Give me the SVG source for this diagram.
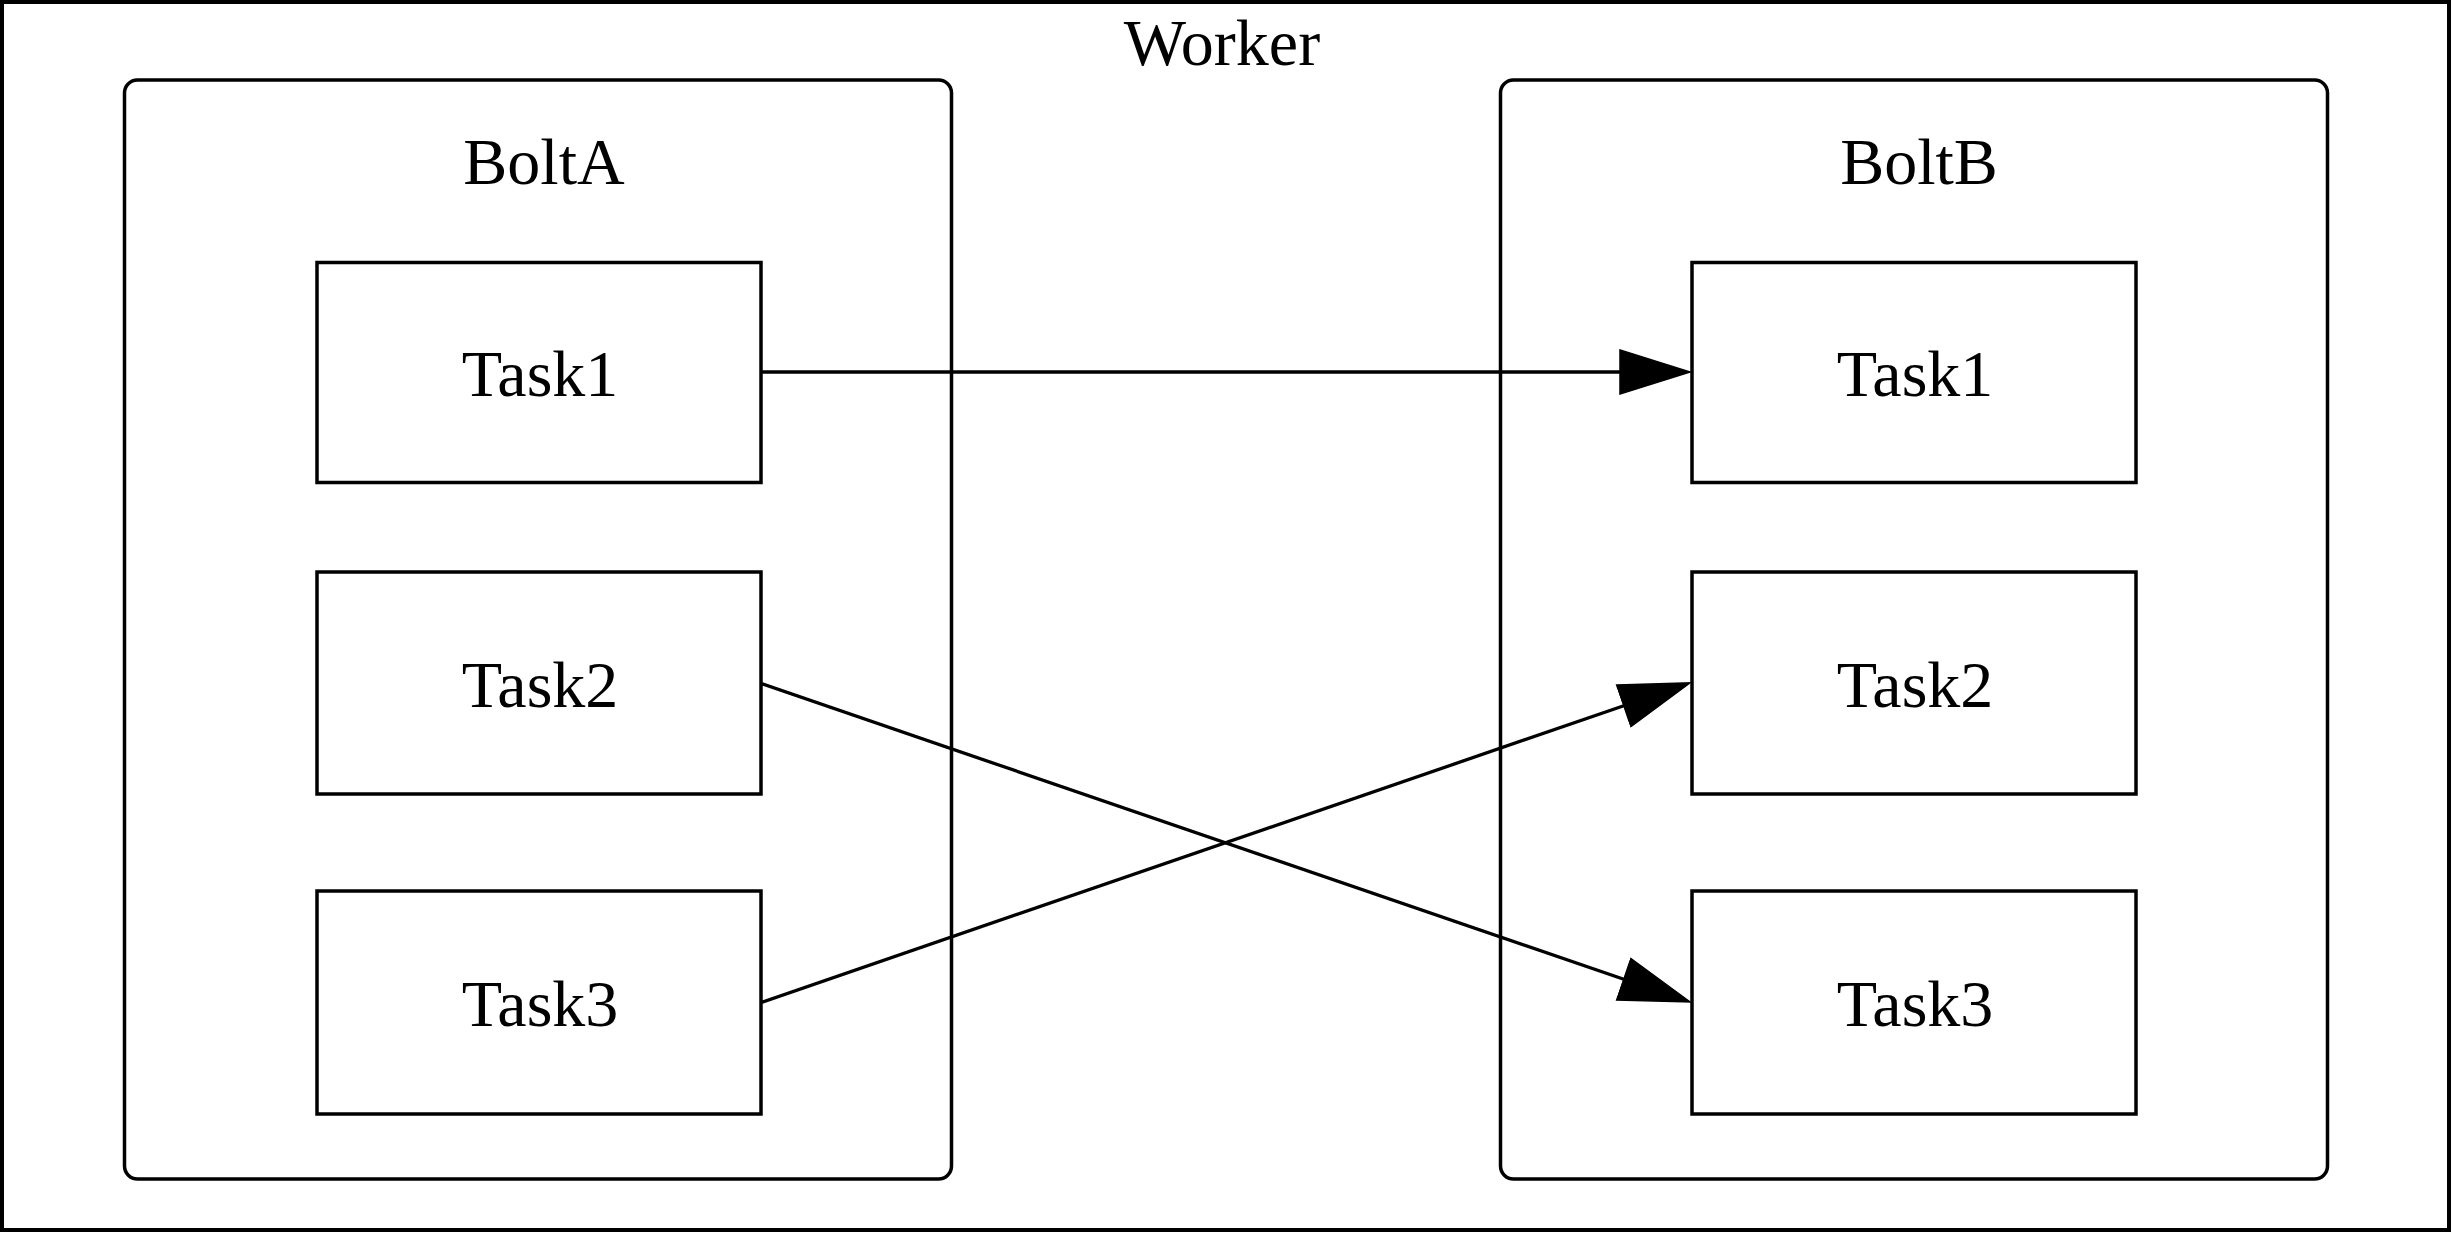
<svg xmlns="http://www.w3.org/2000/svg" width="2452" height="1233" viewBox="0 0 2452 1233">
<style>
.frame{fill:#ffffff;stroke:#000000;stroke-width:4}
.cluster{fill:none;stroke:#000000;stroke-width:3.5}
.box{fill:none;stroke:#000000;stroke-width:3.5}
.lbl{font-family:"Liberation Serif","Times New Roman",serif;font-size:66px;fill:#000000;text-anchor:middle}
.edge{fill:none;stroke:#000000;stroke-width:3.3}
</style>
<defs>
<marker id="arr" markerUnits="userSpaceOnUse" viewBox="0 0 72 46" markerWidth="72" markerHeight="46" refX="1" refY="23" orient="auto">
<path d="M1,1 L71,23 L1,45 z" fill="#000000" stroke="#000000" stroke-width="1.5"/>
</marker>
</defs>
<rect width="2452" height="1233" fill="#ffffff"/>
<g id="worker">
<rect class="frame" x="2" y="2" width="2447" height="1228"/>
<text class="lbl" x="1222" y="65">Worker</text>
</g>
<g id="boltA">
<rect class="cluster" x="124.5" y="80" width="827" height="1099" rx="13" ry="13"/>
<text class="lbl" x="544" y="184">BoltA</text>
</g>
<g id="boltB">
<rect class="cluster" x="1500.5" y="80" width="827" height="1099" rx="13" ry="13"/>
<text class="lbl" x="1919" y="184">BoltB</text>
</g>
<g id="A_Task1">
<rect class="box" x="317" y="262.5" width="444" height="220"/>
<text class="lbl" x="540" y="396">Task1</text>
</g>
<g id="A_Task2">
<rect class="box" x="317" y="572" width="444" height="222"/>
<text class="lbl" x="540" y="707">Task2</text>
</g>
<g id="A_Task3">
<rect class="box" x="317" y="891" width="444" height="223"/>
<text class="lbl" x="540" y="1026">Task3</text>
</g>
<g id="B_Task1">
<rect class="box" x="1692" y="262.5" width="444" height="220"/>
<text class="lbl" x="1915" y="396">Task1</text>
</g>
<g id="B_Task2">
<rect class="box" x="1692" y="572" width="444" height="222"/>
<text class="lbl" x="1915" y="707">Task2</text>
</g>
<g id="B_Task3">
<rect class="box" x="1692" y="891" width="444" height="223"/>
<text class="lbl" x="1915" y="1026">Task3</text>
</g>
<g id="connectors">
<line class="edge" x1="761" y1="372" x2="1620" y2="372" marker-end="url(#arr)"/>
<line class="edge" x1="761" y1="683.5" x2="1623.8" y2="979.3" marker-end="url(#arr)"/>
<line class="edge" x1="761" y1="1002.5" x2="1623.8" y2="705.7" marker-end="url(#arr)"/>
</g>
</svg>
